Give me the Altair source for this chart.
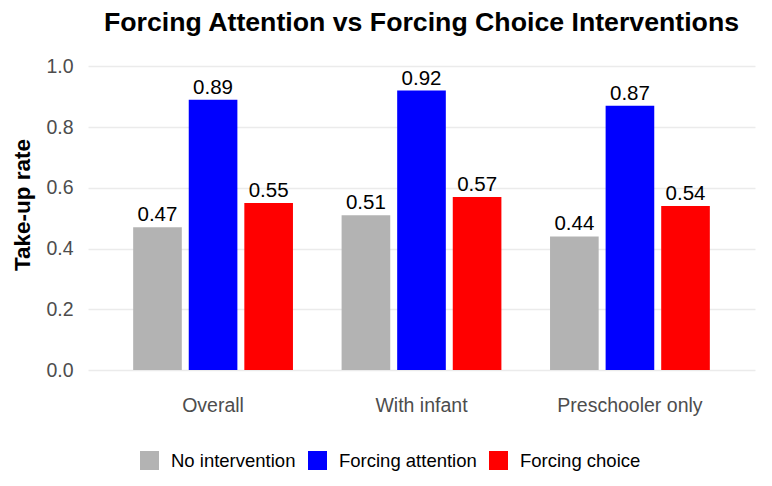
import altair as alt
import pandas as pd

groups = ["Overall", "With infant", "Preschooler only"]
conditions = ["No intervention", "Forcing attention", "Forcing choice"]
no_intervention = [0.47, 0.51, 0.44]
forcing_attention = [0.89, 0.92, 0.87]
forcing_choice = [0.55, 0.57, 0.54]
colors = ["#b3b3b3", "#0000ff", "#ff0000"]
y_ticks = [0.0, 0.2, 0.4, 0.6, 0.8, 1.0]

rows = []
for i, g in enumerate(groups):
    for c, vals in zip(conditions, [no_intervention, forcing_attention, forcing_choice]):
        rows.append({"group": g, "condition": c, "rate": vals[i], "label": f"{vals[i]:.2f}"})
df = pd.DataFrame(rows)

FONT = "Liberation Sans"

x = alt.X("group:N", sort=groups, title=None,
          scale=alt.Scale(paddingInner=0.2, paddingOuter=0.2),
          axis=alt.Axis(labelFontSize=19.5, labelColor="#4d4d4d", labelFont=FONT,
                        ticks=False, domain=False, grid=False, labelPadding=26, labelAngle=0))
xoff = alt.XOffset("condition:N", sort=conditions,
                   scale=alt.Scale(paddingInner=0.125, paddingOuter=0.0625))
y = alt.Y("rate:Q", title="Take-up rate",
          scale=alt.Scale(domain=[0, 1.09], nice=False, zero=False),
          axis=alt.Axis(values=y_ticks, format=".1f", labelFontSize=19.5, labelColor="#4d4d4d",
                        labelFont=FONT, ticks=False, domain=False, grid=True,
                        gridColor="#ebebeb", gridWidth=1.5, labelPadding=15,
                        titleFont=FONT, titleFontSize=22.5, titleFontWeight="bold",
                        titleColor="black", titlePadding=11))

bars = alt.Chart(df).mark_bar().encode(
    x=x, xOffset=xoff, y=y, y2=alt.datum(0),
    color=alt.Color("condition:N", sort=conditions,
                    scale=alt.Scale(domain=conditions, range=colors),
                    legend=alt.Legend(title=None, orient="none", direction="horizontal",
                                      legendX=52, legendY=412,
                                      symbolType="square", symbolSize=361,
                                      symbolStrokeWidth=0, symbolOpacity=1,
                                      labelFont=FONT, labelFontSize=18.5, labelColor="black",
                                      labelOffset=12, columnPadding=12)),
)

text = alt.Chart(df).mark_text(baseline="alphabetic", dy=-6, fontSize=20.5, font=FONT, color="black").encode(
    x=x, xOffset=xoff, y=alt.Y("rate:Q"), text="label:N"
)

chart = alt.layer(bars, text).properties(
    width=667, height=331,
    title=alt.TitleParams("Forcing Attention vs Forcing Choice Interventions",
                          font=FONT, fontSize=26.7, fontWeight="bold", color="black",
                          anchor="middle", offset=2),
    autosize=alt.AutoSizeParams(type="none"),
    padding={"left": 80, "top": 31, "right": 9, "bottom": 108},
).configure(background="white", view=alt.ViewConfig(stroke=None))

chart.save("out.html", embed_options={"renderer": "svg", "actions": False})
